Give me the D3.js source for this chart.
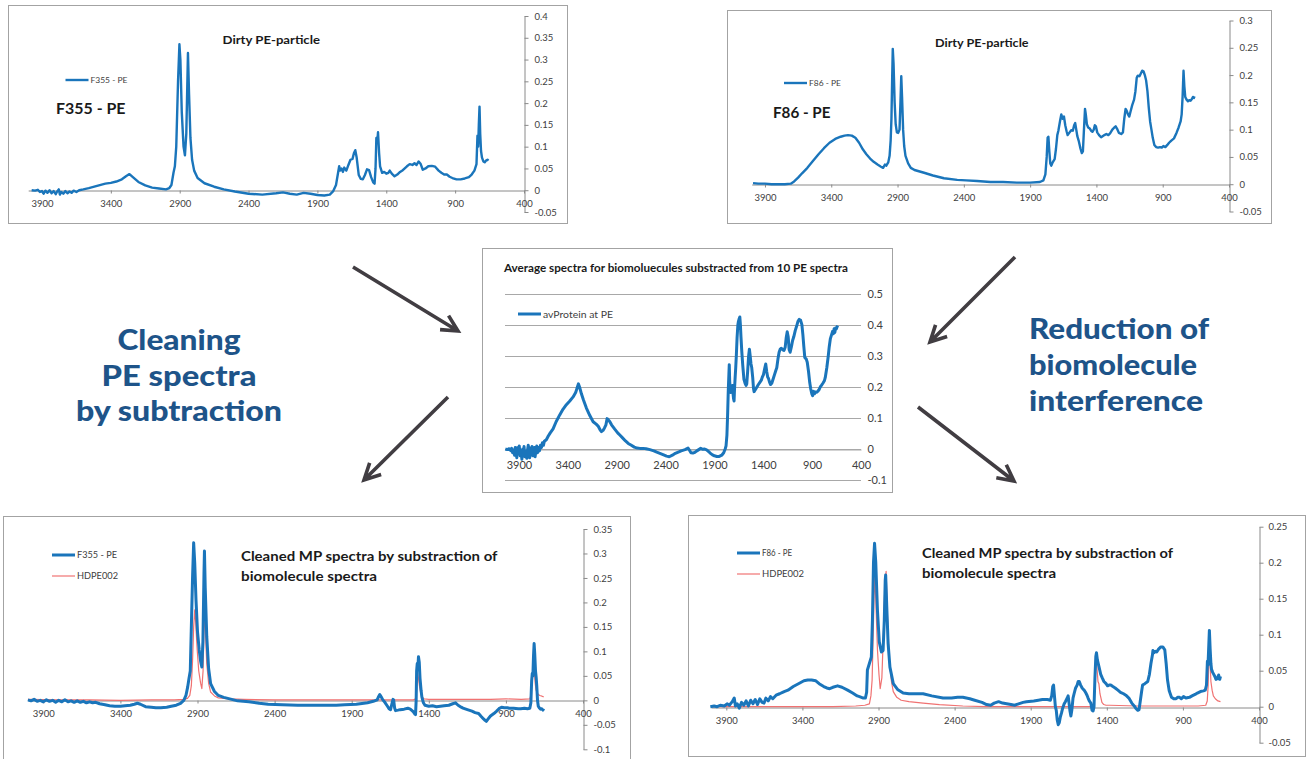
<!DOCTYPE html>
<html><head><meta charset="utf-8">
<script src="https://cdn.jsdelivr.net/npm/d3@7"></script>
<style>html,body{margin:0;padding:0;background:#fff;} svg{display:block;}</style>
</head><body><svg id="c" width="1308" height="759"></svg>
<script>
// ---------------- DATA ----------------
const xTickLabels = [3900,3400,2900,2400,1900,1400,900,400];
const yTicksP1 = [-0.05,0,0.05,0.1,0.15,0.2,0.25,0.3,0.35,0.4];
const yTicksP2 = [-0.05,0,0.05,0.1,0.15,0.2,0.25,0.3];
const yTicksP3 = [-0.1,0,0.1,0.2,0.3,0.4,0.5];
const yTicksP4 = [-0.1,-0.05,0,0.05,0.1,0.15,0.2,0.25,0.3,0.35];
const yTicksP5 = [-0.05,0,0.05,0.1,0.15,0.2,0.25];

const seriesNames = {f355:"F355 - PE", f86:"F86 - PE", avProt:"avProtein at PE", hdpe:"HDPE002"};

// [wavenumber cm-1, absorbance]
const f355Dirty = [[3975,0.000],[3950,-0.001],[3930,0.001],[3915,-0.004],[3900,-0.002],[3888,-0.008],[3875,-0.001],[3860,-0.006],[3845,0.000],[3830,-0.007],[3815,-0.002],[3800,-0.009],[3790,-0.003],[3778,0.002],[3770,-0.010],[3760,-0.004],[3745,-0.008],[3730,-0.002],[3715,-0.007],[3700,-0.003],[3685,-0.006],[3670,-0.001],[3650,-0.004],[3630,0.000],[3600,0.002],[3560,0.005],[3500,0.010],[3440,0.015],[3400,0.017],[3360,0.020],[3320,0.025],[3290,0.032],[3265,0.037],[3240,0.030],[3200,0.019],[3150,0.011],[3100,0.006],[3050,0.004],[3000,0.002],[2975,0.005],[2960,0.012],[2945,0.040],[2935,0.055],[2925,0.10],[2912,0.25],[2902,0.335],[2895,0.30],[2885,0.18],[2872,0.10],[2862,0.08],[2852,0.13],[2840,0.315],[2832,0.22],[2822,0.12],[2810,0.07],[2795,0.045],[2770,0.028],[2720,0.016],[2650,0.008],[2580,0.002],[2500,-0.003],[2400,-0.008],[2300,-0.010],[2200,-0.007],[2150,-0.005],[2100,-0.008],[2050,-0.010],[2000,-0.006],[1950,-0.008],[1900,-0.011],[1850,-0.012],[1810,-0.010],[1785,-0.002],[1765,0.012],[1750,0.040],[1742,0.055],[1735,0.045],[1725,0.050],[1715,0.042],[1705,0.052],[1690,0.045],[1675,0.058],[1660,0.070],[1645,0.072],[1635,0.085],[1625,0.092],[1615,0.075],[1600,0.035],[1585,0.026],[1570,0.025],[1555,0.035],[1540,0.048],[1525,0.046],[1510,0.030],[1495,0.018],[1485,0.015],[1478,0.05],[1472,0.12],[1466,0.108],[1460,0.133],[1452,0.085],[1445,0.055],[1430,0.040],[1415,0.042],[1400,0.038],[1385,0.040],[1375,0.045],[1360,0.038],[1340,0.032],[1320,0.036],[1300,0.042],[1280,0.046],[1250,0.055],[1230,0.060],[1210,0.058],[1195,0.062],[1180,0.058],[1165,0.066],[1150,0.060],[1135,0.047],[1115,0.050],[1095,0.055],[1070,0.056],[1045,0.054],[1020,0.045],[1000,0.040],[980,0.036],[960,0.036],[940,0.031],[920,0.028],[890,0.025],[860,0.025],[830,0.027],[800,0.030],[780,0.036],[760,0.045],[745,0.060],[738,0.125],[733,0.100],[728,0.150],[723,0.192],[718,0.130],[712,0.090],[705,0.075],[695,0.066],[685,0.064],[675,0.068],[665,0.070],[658,0.068]];

const f86Dirty = [[3990,0.002],[3950,0.001],[3900,0.001],[3850,0.000],[3800,0.000],[3750,0.000],[3705,0.001],[3680,0.005],[3650,0.012],[3620,0.020],[3580,0.030],[3540,0.042],[3496,0.055],[3455,0.066],[3413,0.076],[3370,0.083],[3329,0.087],[3300,0.089],[3274,0.090],[3245,0.089],[3218,0.085],[3190,0.076],[3162,0.064],[3135,0.055],[3107,0.047],[3080,0.041],[3051,0.036],[3025,0.032],[3009,0.030],[2995,0.036],[2985,0.034],[2970,0.040],[2960,0.052],[2952,0.080],[2946,0.12],[2940,0.20],[2936,0.248],[2930,0.22],[2922,0.15],[2914,0.11],[2905,0.095],[2895,0.094],[2885,0.10],[2878,0.15],[2872,0.198],[2866,0.16],[2858,0.10],[2850,0.07],[2840,0.052],[2820,0.038],[2800,0.030],[2772,0.026],[2700,0.021],[2633,0.016],[2550,0.011],[2450,0.008],[2383,0.007],[2300,0.006],[2200,0.004],[2104,0.004],[2000,0.003],[1900,0.003],[1826,0.004],[1800,0.007],[1785,0.018],[1775,0.050],[1768,0.085],[1762,0.087],[1755,0.060],[1748,0.038],[1740,0.034],[1730,0.040],[1715,0.046],[1705,0.065],[1695,0.090],[1687,0.098],[1675,0.115],[1665,0.128],[1655,0.120],[1645,0.124],[1635,0.108],[1625,0.097],[1617,0.090],[1605,0.094],[1590,0.099],[1578,0.098],[1568,0.108],[1560,0.112],[1552,0.100],[1544,0.088],[1534,0.080],[1520,0.065],[1510,0.057],[1502,0.060],[1494,0.100],[1486,0.138],[1480,0.128],[1472,0.110],[1462,0.104],[1450,0.102],[1440,0.098],[1430,0.096],[1420,0.100],[1412,0.108],[1404,0.106],[1394,0.095],[1380,0.090],[1365,0.086],[1353,0.088],[1340,0.090],[1325,0.092],[1310,0.090],[1297,0.093],[1280,0.100],[1265,0.104],[1255,0.106],[1245,0.102],[1230,0.094],[1213,0.092],[1200,0.095],[1190,0.120],[1180,0.138],[1172,0.135],[1162,0.128],[1152,0.124],[1144,0.132],[1130,0.145],[1116,0.155],[1106,0.170],[1096,0.195],[1088,0.199],[1075,0.198],[1065,0.203],[1055,0.208],[1045,0.207],[1035,0.200],[1025,0.190],[1015,0.170],[1005,0.140],[995,0.115],[985,0.100],[975,0.085],[963,0.072],[950,0.068],[935,0.067],[920,0.068],[907,0.067],[895,0.070],[880,0.068],[865,0.072],[852,0.076],[835,0.080],[815,0.084],[796,0.094],[780,0.104],[765,0.115],[757,0.128],[750,0.160],[743,0.208],[737,0.180],[730,0.160],[720,0.155],[710,0.152],[700,0.154],[690,0.153],[680,0.156],[672,0.160],[665,0.158],[660,0.161]];

const avProtein = [[4040,0.000],[4020,-0.002],[4000,0.001],[3985,-0.005],[3975,0.002],[3965,-0.012],[3955,-0.003],[3945,-0.020],[3938,0.005],[3930,-0.010],[3922,-0.028],[3915,0.004],[3905,-0.015],[3897,0.010],[3888,-0.022],[3880,-0.005],[3870,-0.033],[3862,0.000],[3855,-0.018],[3848,0.008],[3840,-0.025],[3830,-0.008],[3820,-0.030],[3812,-0.002],[3805,0.012],[3797,-0.012],[3790,-0.028],[3782,0.003],[3774,-0.015],[3766,0.008],[3758,-0.022],[3750,-0.010],[3742,0.005],[3735,-0.025],[3726,-0.005],[3718,0.010],[3710,-0.012],[3700,0.005],[3690,-0.006],[3680,0.012],[3670,0.005],[3660,0.020],[3650,0.012],[3640,0.025],[3620,0.030],[3600,0.042],[3580,0.052],[3551,0.065],[3520,0.088],[3483,0.110],[3450,0.128],[3415,0.143],[3380,0.155],[3346,0.168],[3320,0.182],[3302,0.200],[3292,0.210],[3280,0.200],[3261,0.178],[3240,0.158],[3210,0.132],[3175,0.108],[3141,0.088],[3110,0.080],[3090,0.074],[3070,0.062],[3056,0.056],[3040,0.060],[3025,0.068],[3010,0.078],[2998,0.098],[2985,0.094],[2970,0.088],[2953,0.078],[2920,0.064],[2890,0.052],[2868,0.045],[2840,0.036],[2810,0.026],[2782,0.018],[2750,0.012],[2720,0.006],[2690,0.003],[2663,0.002],[2630,0.002],[2600,0.001],[2560,-0.002],[2520,-0.006],[2490,-0.010],[2458,-0.014],[2420,-0.019],[2390,-0.023],[2362,-0.025],[2330,-0.020],[2300,-0.014],[2270,-0.010],[2240,-0.006],[2200,-0.002],[2170,0.003],[2155,-0.004],[2140,-0.012],[2120,-0.013],[2100,-0.011],[2080,-0.006],[2060,-0.002],[2040,0.002],[2020,-0.001],[2000,0.000],[1980,-0.003],[1960,-0.008],[1940,-0.014],[1920,-0.019],[1900,-0.022],[1875,-0.024],[1850,-0.024],[1825,-0.020],[1805,-0.012],[1790,0.000],[1781,0.010],[1772,0.045],[1765,0.110],[1758,0.190],[1752,0.240],[1748,0.272],[1744,0.220],[1738,0.190],[1733,0.182],[1728,0.196],[1722,0.200],[1716,0.205],[1710,0.180],[1704,0.162],[1699,0.155],[1694,0.195],[1688,0.230],[1682,0.262],[1676,0.300],[1668,0.360],[1660,0.400],[1654,0.412],[1647,0.420],[1640,0.426],[1634,0.400],[1628,0.360],[1620,0.315],[1610,0.270],[1598,0.225],[1586,0.212],[1576,0.205],[1569,0.210],[1560,0.250],[1550,0.300],[1542,0.322],[1534,0.300],[1526,0.275],[1518,0.262],[1508,0.230],[1500,0.195],[1494,0.185],[1480,0.192],[1465,0.200],[1450,0.208],[1435,0.215],[1420,0.222],[1410,0.232],[1398,0.240],[1385,0.260],[1375,0.274],[1365,0.250],[1355,0.232],[1347,0.228],[1335,0.215],[1325,0.208],[1313,0.212],[1300,0.225],[1285,0.240],[1270,0.255],[1262,0.262],[1250,0.290],[1238,0.312],[1227,0.322],[1215,0.325],[1200,0.320],[1188,0.318],[1176,0.328],[1165,0.360],[1155,0.378],[1145,0.362],[1135,0.320],[1125,0.312],[1112,0.330],[1100,0.350],[1088,0.362],[1073,0.382],[1060,0.395],[1045,0.412],[1032,0.418],[1018,0.415],[1005,0.401],[995,0.370],[985,0.330],[975,0.295],[960,0.290],[950,0.280],[937,0.250],[925,0.215],[915,0.195],[903,0.178],[895,0.172],[885,0.186],[875,0.178],[868,0.184],[855,0.183],[840,0.187],[828,0.192],[817,0.200],[805,0.205],[790,0.212],[775,0.220],[766,0.230],[750,0.262],[735,0.300],[725,0.330],[714,0.355],[700,0.370],[690,0.380],[683,0.372],[675,0.388],[668,0.376],[660,0.390],[652,0.388],[645,0.394],[638,0.398]];

const f355Clean = [[4000,0.001],[3980,-0.001],[3960,0.002],[3940,-0.002],[3920,0.000],[3900,-0.003],[3880,0.001],[3860,-0.002],[3840,0.000],[3820,-0.004],[3800,0.000],[3780,-0.003],[3760,0.001],[3740,-0.003],[3720,-0.001],[3700,-0.004],[3680,-0.001],[3660,-0.004],[3640,-0.002],[3620,-0.005],[3600,-0.003],[3580,-0.005],[3560,-0.004],[3535,-0.007],[3500,-0.009],[3470,-0.011],[3436,-0.012],[3400,-0.012],[3370,-0.011],[3336,-0.010],[3310,-0.008],[3290,-0.006],[3270,-0.008],[3237,-0.013],[3200,-0.014],[3170,-0.015],[3138,-0.015],[3100,-0.014],[3070,-0.012],[3038,-0.010],[3010,-0.006],[2989,0.000],[2975,0.010],[2964,0.027],[2955,0.045],[2947,0.060],[2940,0.150],[2932,0.253],[2925,0.322],[2918,0.280],[2910,0.206],[2900,0.140],[2889,0.103],[2880,0.080],[2872,0.068],[2865,0.120],[2858,0.260],[2855,0.305],[2850,0.230],[2840,0.130],[2828,0.065],[2815,0.034],[2790,0.018],[2765,0.010],[2730,0.006],[2691,0.003],[2640,-0.001],[2567,-0.003],[2500,-0.006],[2442,-0.008],[2350,-0.009],[2250,-0.010],[2194,-0.010],[2100,-0.010],[2000,-0.010],[1946,-0.009],[1870,-0.008],[1797,-0.005],[1760,-0.002],[1735,0.001],[1725,0.008],[1718,0.012],[1710,0.008],[1698,0.001],[1685,-0.004],[1668,-0.012],[1658,-0.017],[1648,-0.019],[1640,-0.008],[1632,0.002],[1628,0.001],[1622,-0.015],[1616,-0.021],[1600,-0.020],[1586,-0.019],[1560,-0.018],[1536,-0.016],[1520,-0.018],[1505,-0.022],[1499,-0.024],[1490,-0.028],[1486,-0.029],[1482,0.000],[1479,0.060],[1475,0.075],[1471,0.065],[1467,0.089],[1462,0.078],[1457,0.045],[1450,0.020],[1445,0.007],[1435,-0.005],[1425,-0.010],[1400,-0.012],[1376,-0.011],[1350,-0.013],[1325,-0.012],[1301,-0.011],[1270,-0.010],[1245,-0.007],[1227,-0.005],[1210,-0.010],[1190,-0.014],[1178,-0.016],[1150,-0.019],[1120,-0.022],[1100,-0.025],[1077,-0.027],[1060,-0.033],[1045,-0.038],[1035,-0.041],[1027,-0.043],[1015,-0.038],[1000,-0.032],[978,-0.027],[960,-0.022],[945,-0.017],[928,-0.014],[910,-0.015],[890,-0.015],[878,-0.016],[850,-0.016],[820,-0.017],[804,-0.017],[780,-0.016],[760,-0.017],[745,-0.016],[738,-0.005],[733,0.040],[729,0.055],[725,0.050],[721,0.090],[717,0.116],[713,0.095],[708,0.060],[704,0.048],[700,0.030],[695,0.000],[690,-0.012],[684,-0.015],[676,-0.018],[668,-0.017],[660,-0.020],[655,-0.017]];

const hdpeP4 = [[4000,0.002],[3800,0.001],[3600,0.001],[3400,0.000],[3200,0.001],[3050,0.001],[2990,0.002],[2965,0.004],[2950,0.010],[2940,0.030],[2932,0.082],[2925,0.150],[2918,0.185],[2912,0.160],[2902,0.103],[2892,0.060],[2880,0.035],[2872,0.024],[2864,0.060],[2858,0.150],[2855,0.185],[2850,0.150],[2840,0.075],[2828,0.035],[2815,0.017],[2790,0.009],[2765,0.005],[2691,0.003],[2600,0.002],[2400,0.001],[2200,0.001],[2000,0.001],[1800,0.001],[1600,0.001],[1500,0.001],[1485,0.003],[1479,0.020],[1475,0.050],[1472,0.055],[1467,0.045],[1460,0.028],[1452,0.015],[1445,0.007],[1430,0.003],[1400,0.002],[1200,0.002],[1000,0.002],[900,0.003],[800,0.002],[745,0.003],[738,0.010],[734,0.025],[729,0.040],[724,0.060],[720,0.082],[715,0.055],[710,0.035],[705,0.022],[698,0.015],[690,0.012],[680,0.010],[670,0.009],[655,0.007]];

const f86Clean = [[4005,0.000],[3980,0.001],[3960,0.000],[3940,0.002],[3913,0.001],[3895,0.004],[3880,0.002],[3861,0.007],[3848,0.012],[3840,0.001],[3828,0.004],[3815,-0.002],[3800,0.006],[3785,0.002],[3770,0.008],[3755,0.001],[3740,0.009],[3725,0.004],[3710,0.010],[3695,0.003],[3680,0.011],[3665,0.006],[3652,0.005],[3640,0.012],[3625,0.008],[3610,0.014],[3595,0.011],[3573,0.016],[3550,0.018],[3520,0.021],[3495,0.023],[3460,0.028],[3417,0.033],[3390,0.036],[3365,0.037],[3340,0.037],[3312,0.036],[3290,0.032],[3260,0.028],[3240,0.026],[3221,0.025],[3200,0.027],[3169,0.029],[3140,0.027],[3103,0.023],[3070,0.019],[3040,0.015],[3025,0.014],[3000,0.012],[2986,0.012],[2978,0.020],[2973,0.051],[2960,0.060],[2947,0.069],[2940,0.120],[2933,0.200],[2926,0.227],[2918,0.200],[2907,0.134],[2895,0.090],[2881,0.076],[2870,0.078],[2862,0.120],[2856,0.175],[2853,0.183],[2846,0.140],[2837,0.088],[2825,0.055],[2803,0.032],[2775,0.024],[2738,0.019],[2700,0.018],[2650,0.018],[2607,0.018],[2550,0.015],[2476,0.012],[2420,0.012],[2380,0.013],[2346,0.013],[2300,0.011],[2268,0.009],[2220,0.006],[2190,0.003],[2163,0.002],[2140,0.005],[2111,0.007],[2085,0.005],[2058,0.004],[2030,0.003],[2006,0.002],[1980,0.004],[1950,0.006],[1928,0.007],[1880,0.008],[1850,0.009],[1823,0.010],[1790,0.010],[1771,0.009],[1762,0.015],[1755,0.028],[1750,0.030],[1744,0.015],[1738,0.000],[1732,-0.005],[1726,-0.018],[1719,-0.025],[1712,-0.022],[1705,-0.014],[1698,-0.009],[1690,-0.002],[1680,0.004],[1672,0.007],[1665,0.010],[1660,0.012],[1654,0.015],[1648,0.005],[1642,-0.006],[1636,-0.013],[1630,-0.005],[1622,0.012],[1615,0.018],[1605,0.026],[1595,0.030],[1588,0.035],[1581,0.035],[1572,0.030],[1562,0.026],[1549,0.023],[1540,0.020],[1530,0.016],[1523,0.012],[1515,0.008],[1505,0.005],[1497,-0.005],[1490,-0.006],[1484,0.000],[1478,0.040],[1472,0.070],[1468,0.075],[1462,0.065],[1452,0.056],[1440,0.045],[1430,0.040],[1419,0.035],[1405,0.032],[1395,0.029],[1385,0.030],[1374,0.030],[1360,0.028],[1345,0.026],[1327,0.023],[1310,0.020],[1290,0.018],[1275,0.016],[1255,0.012],[1236,0.005],[1220,0.001],[1210,-0.002],[1197,-0.005],[1188,-0.004],[1180,0.008],[1172,0.020],[1165,0.030],[1150,0.032],[1131,0.035],[1120,0.045],[1110,0.060],[1100,0.072],[1097,0.078],[1090,0.075],[1082,0.077],[1072,0.076],[1060,0.080],[1045,0.083],[1032,0.083],[1019,0.079],[1010,0.060],[1001,0.037],[990,0.022],[975,0.013],[960,0.011],[945,0.011],[935,0.013],[922,0.013],[910,0.011],[896,0.014],[880,0.012],[857,0.013],[840,0.015],[820,0.017],[805,0.019],[785,0.021],[765,0.022],[753,0.023],[745,0.030],[739,0.063],[735,0.058],[730,0.085],[726,0.106],[721,0.080],[716,0.060],[712,0.052],[705,0.048],[700,0.046],[690,0.042],[683,0.038],[674,0.039],[665,0.044],[658,0.038],[653,0.042]];

const hdpeP5 = [[4000,0.000],[3800,0.000],[3600,0.000],[3400,0.000],[3200,0.000],[3050,0.001],[2990,0.002],[2960,0.004],[2950,0.015],[2942,0.037],[2935,0.100],[2926,0.183],[2918,0.150],[2907,0.079],[2897,0.045],[2889,0.025],[2878,0.040],[2868,0.100],[2858,0.170],[2850,0.188],[2842,0.130],[2829,0.065],[2815,0.035],[2803,0.021],[2780,0.013],[2751,0.009],[2700,0.007],[2607,0.005],[2500,0.003],[2346,0.001],[2200,0.000],[2000,0.000],[1800,0.000],[1600,0.000],[1490,0.000],[1484,0.002],[1478,0.040],[1474,0.070],[1471,0.074],[1465,0.055],[1458,0.035],[1452,0.032],[1445,0.018],[1432,0.006],[1420,0.003],[1405,0.002],[1380,0.002],[1200,0.001],[1000,0.001],[900,0.001],[800,0.001],[750,0.002],[740,0.008],[734,0.030],[729,0.070],[726,0.086],[721,0.060],[716,0.035],[708,0.023],[700,0.015],[687,0.011],[670,0.008],[653,0.007]];

// ---------------- STYLE / LAYOUT ----------------
const BLUE = "#1a75bb", RED = "#f07272", ARROW = "#413d42", HEAD = "#1e5489";
const FONT = "Lato, 'Liberation Sans', sans-serif";
const svg = d3.select("#c");

const panels = [
  {box:[8,5,567,223], xr:[4000,28.2,524], yd:[-0.05,0.4], yr:[212,16], yTicks:yTicksP1, grid:false,
   series:[{d:f355Dirty,c:BLUE,w:2.4}], fs:9.5, xPad:7, yPad:6,
   legend:[{name:seriesNames.f355,c:BLUE,w:2.4,x:65.5,y:80,tl:37,fs:8}],
   texts:[{t:"Dirty PE-particle",x:222.5,y:44,tl:97.5,fs:11.5},{t:"F355 - PE",x:56,y:114,tl:69.5,fs:16}]},
  {box:[727,10,1271,223], xr:[4000,751.7,1229], yd:[-0.05,0.3], yr:[211.5,20.5], yTicks:yTicksP2, grid:false,
   series:[{d:f86Dirty,c:BLUE,w:2.4}], fs:9.5, xPad:7, yPad:6,
   legend:[{name:seriesNames.f86,c:BLUE,w:2.4,x:784,y:83,tl:32,fs:8}],
   texts:[{t:"Dirty PE-particle",x:935,y:47,tl:93.5,fs:11.5},{t:"F86 - PE",x:773,y:118,tl:57.5,fs:16}]},
  {box:[482,248,892,492], xr:[4043,505,861], yd:[-0.1,0.5], yr:[480,294], yTicks:yTicksP3, grid:true,
   series:[{d:avProtein,c:BLUE,w:3}], fs:11, xPad:12, yPad:6,
   legend:[{name:seriesNames.avProt,c:BLUE,w:3,x:518,y:314,tl:70,fs:10,bold:false}],
   texts:[{t:"Average spectra for biomoluecules substracted from 10  PE spectra",x:504,y:272,tl:344,fs:11.5}]},
  {box:[3,516,630,762], xr:[4000,27.9,583], yd:[-0.1,0.35], yr:[749.3,529], yTicks:yTicksP4, grid:false,
   series:[{d:hdpeP4,c:RED,w:1.2},{d:f355Clean,c:BLUE,w:3}], fs:9.5, xPad:7, yPad:6,
   legend:[{name:seriesNames.f355,c:BLUE,w:3,x:52,y:555,tl:40,fs:9},{name:seriesNames.hdpe,c:RED,w:1.2,x:52,y:576,tl:41,fs:9}],
   texts:[{t:"Cleaned MP spectra by substraction of",x:241,y:561,tl:256.5,fs:13.5},{t:"biomolecule spectra",x:241,y:581,tl:136,fs:13.5}]},
  {box:[688,515,1305,756], xr:[4000,711.1,1259], yd:[-0.05,0.25], yr:[742.7,526.7], yTicks:yTicksP5, grid:false,
   series:[{d:hdpeP5,c:RED,w:1.2},{d:f86Clean,c:BLUE,w:3}], fs:9.5, xPad:7, yPad:5,
   legend:[{name:seriesNames.f86,c:BLUE,w:3,x:737,y:553,tl:30,fs:9},{name:seriesNames.hdpe,c:RED,w:1.2,x:737,y:574,tl:42,fs:9}],
   texts:[{t:"Cleaned MP spectra by substraction of",x:922,y:557.5,tl:251,fs:13.5},{t:"biomolecule spectra",x:922,y:577.5,tl:134,fs:13.5}]}
];

const fmt = v => String(+v.toFixed(2));

panels.forEach(p => {
  const g = svg.append("g");
  g.append("rect").attr("x",p.box[0]+0.5).attr("y",p.box[1]+0.5)
    .attr("width",p.box[2]-p.box[0]).attr("height",p.box[3]-p.box[1])
    .attr("fill","#fff").attr("stroke","#a3a3a3").attr("stroke-width",1);
  const x = d3.scaleLinear().domain([p.xr[0],400]).range([p.xr[1],p.xr[2]]);
  const y = d3.scaleLinear().domain(p.yd).range(p.yr);

  if (p.grid) {
    g.selectAll("line.grid").data(p.yTicks).join("line")
      .attr("x1",x(p.xr[0])).attr("x2",x(400))
      .attr("y1",d=>Math.round(y(d))+0.5).attr("y2",d=>Math.round(y(d))+0.5)
      .attr("stroke","#a8a8a8").attr("stroke-width",1);
  }
  // y axis (right side at 400 cm-1)
  const ya = g.append("g").attr("transform",`translate(${Math.round(x(400))+0.5},0)`)
    .call(d3.axisRight(y).tickValues(p.yTicks).tickFormat(fmt).tickSize(p.grid?0:4).tickSizeOuter(0).tickPadding(p.yPad));
  ya.select(".domain").attr("stroke", p.grid ? "none" : "#8a8a8a");
  ya.selectAll(".tick line").attr("stroke","#8a8a8a");
  ya.selectAll("text").attr("font-family",FONT).attr("font-size",p.fs).attr("fill","#404040");
  // x axis at y = 0
  const xa = g.append("g").attr("transform",`translate(0,${Math.round(y(0))+0.5})`)
    .call(d3.axisBottom(x).tickValues(xTickLabels).tickFormat(d=>d).tickSize(p.grid?0:3).tickSizeOuter(0).tickPadding(p.xPad));
  xa.select(".domain").attr("stroke", p.grid ? "#a8a8a8" : "#8a8a8a");
  xa.selectAll(".tick line").attr("stroke","#8a8a8a");
  xa.selectAll("text").attr("font-family",FONT).attr("font-size",p.fs).attr("fill","#404040");

  const line = d3.line().x(d=>x(d[0])).y(d=>y(d[1]));
  p.series.forEach(s => {
    g.append("path").datum(s.d).attr("d",line).attr("fill","none")
      .attr("stroke",s.c).attr("stroke-width",s.w).attr("stroke-linejoin","round");
  });
  p.legend.forEach(l => {
    g.append("line").attr("x1",l.x).attr("x2",l.x+23).attr("y1",l.y).attr("y2",l.y)
      .attr("stroke",l.c).attr("stroke-width",l.w);
    g.append("text").attr("x",l.x+25).attr("y",l.y+l.fs*0.36).text(l.name)
      .attr("font-family",FONT).attr("font-size",l.fs).attr("fill","#404040")
      .attr("textLength",l.tl).attr("lengthAdjust","spacingAndGlyphs");
  });
  p.texts.forEach(t => {
    g.append("text").attr("x",t.x).attr("y",t.y).text(t.t)
      .attr("font-family",FONT).attr("font-weight","bold").attr("font-size",t.fs).attr("fill","#1a1a1a")
      .attr("textLength",t.tl).attr("lengthAdjust","spacingAndGlyphs");
  });
});

// ---------------- ANNOTATIONS ----------------
const headings = [
  {t:"Cleaning",x:179,y:350,tl:123,anchor:"middle"},
  {t:"PE spectra",x:179,y:386,tl:155,anchor:"middle"},
  {t:"by subtraction",x:179,y:421,tl:206,anchor:"middle"},
  {t:"Reduction of",x:1029,y:339,tl:180,anchor:"start"},
  {t:"biomolecule",x:1029,y:375,tl:168,anchor:"start"},
  {t:"interference",x:1029,y:411,tl:174,anchor:"start"}
];
svg.selectAll("text.head").data(headings).join("text").attr("class","head")
  .attr("x",d=>d.x).attr("y",d=>d.y).attr("text-anchor",d=>d.anchor).text(d=>d.t)
  .attr("font-family",FONT).attr("font-weight",900).attr("font-size",29).attr("fill",HEAD)
  .attr("textLength",d=>d.tl).attr("lengthAdjust","spacingAndGlyphs");

const arrows = [
  [[353,267],[458,331]],
  [[448,397],[364,480]],
  [[1015,257],[930,342]],
  [[918,407],[1014,481]]
];
arrows.forEach(([a,b]) => {
  const ang = Math.atan2(b[1]-a[1], b[0]-a[0]);
  const L = 18, sp = 27*Math.PI/180;
  const h1 = [b[0]-L*Math.cos(ang-sp), b[1]-L*Math.sin(ang-sp)];
  const h2 = [b[0]-L*Math.cos(ang+sp), b[1]-L*Math.sin(ang+sp)];
  svg.append("path").attr("d",`M${a}L${b}M${h1}L${b}L${h2}`)
    .attr("fill","none").attr("stroke",ARROW).attr("stroke-width",3.6).attr("stroke-linejoin","miter");
});
</script>
</body></html>
